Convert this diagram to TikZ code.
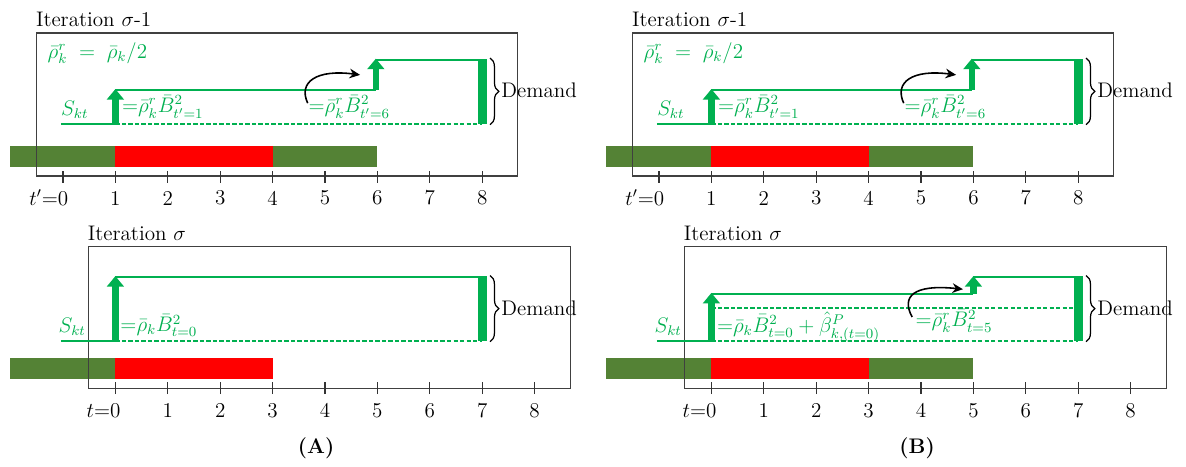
\documentclass[tikz,border=0pt]{standalone}
\usepackage{amsmath,amssymb}
\usepackage{xcolor}
\usepackage{tikz}
\usetikzlibrary{arrows.meta,decorations.pathreplacing}

\definecolor{skgreen}{HTML}{00B050}
\definecolor{barolive}{HTML}{548235}
\definecolor{barred}{HTML}{FF0000}

\begin{document}
\begin{tikzpicture}[x=1.048cm,y=1.048cm,
    frame/.style={draw=black!75,line width=0.7pt},
    tick/.style={draw=black!80,line width=0.6pt},
    ticklab/.style={font=\large,inner sep=0pt},
    title/.style={font=\large,anchor=west,inner sep=0pt},
    skline/.style={draw=skgreen,line width=1.1pt},
    skdash/.style={draw=skgreen,line width=0.9pt,dash pattern=on 2.4pt off 1.3pt},
    jump/.style={skgreen,line width=3.6pt,-{Triangle[width=9.5pt,length=6pt]}},
    lbl/.style={skgreen,font=\large,inner sep=0pt,anchor=base west},
    movearr/.style={-{Stealth[length=6pt,width=5.5pt]},line width=0.9pt},
    brc/.style={decorate,decoration={brace,amplitude=5pt},line width=0.7pt},
    dem/.style={font=\large,anchor=west,inner sep=0pt},
  ]
  \useasboundingbox (-1.202,-5.534) rectangle (21.431,3.359);

  % ---------------- iteration sigma-1 (same in A and B) ----------------
  \foreach \dx/\pn in {0/A,11.374/B}{
  \begin{scope}[shift={(\dx,0)}]
    \node[title] (\pn-ttl) at (-0.52,2.98) {Iteration $\sigma$-1};
    % olive / red / olive bar
    \fill[barolive] (-1.01,0.17) rectangle (1,0.57);
    \fill[barred] (1,0.17) rectangle (4,0.57);
    \fill[barolive] (4,0.17) rectangle (6,0.57);
    \draw[frame] (-0.50,0) rectangle (8.68,2.73);
    \foreach \i in {0,...,8} \draw[tick] (\i,-0.13) -- (\i,0.10);
    \node[ticklab] (\pn-t0) at (0,-0.42) {\llap{$t'$=}0};
    \foreach \i in {1,...,8} \node[ticklab] (\pn-t\i) at (\i,-0.42) {\i};
    % stock S_kt
    \draw[skline] (-0.04,0.99) -- (1,0.99);
    \draw[skdash] (1,0.99) -- (8,0.99);
    \draw[skline] (1,1.64) -- (5.97,1.64);
    \draw[skline] (5.97,2.22) -- (8,2.22);
    \draw[jump] (1,0.99) -- (1,1.66);
    \draw[jump] (5.97,1.64) -- (5.97,2.24);
    \fill[skgreen] (7.92,0.99) rectangle (8.09,2.24);
    \node[lbl,anchor=west] (\pn-rho) at (-0.30,2.35) {$\bar\rho^r_k\;=\;\bar\rho_k/2$};
    \node[lbl] (\pn-s) at (-0.04,1.16) {$S_{kt}$};
    \node[lbl] (\pn-q1) at (1.12,1.21) {${=}\bar\rho^r_k\bar B^2_{t'=1}$};
    \node[lbl] (\pn-q6) at (4.68,1.21) {${=}\bar\rho^r_k\bar B^2_{t'=6}$};
    \coordinate (\pn-c0) at (4.67,1.39);
    \coordinate (\pn-c1) at (5.67,1.93);
    \draw[movearr] (\pn-c0) .. controls (4.48,1.80) and (4.85,2.04) .. (\pn-c1);
    \draw[brc] (8.15,2.25) -- (8.15,0.98);
    \node[dem] (\pn-dem) at (8.36,1.64) {Demand};
  \end{scope}}

  % ---------------- (A) iteration sigma ----------------
  \node[title] (Ab-ttl) at (0.47,-1.09) {Iteration $\sigma$};
  \fill[barolive] (-1.01,-3.87) rectangle (1,-3.47);
  \fill[barred] (1,-3.87) rectangle (4,-3.47);
  \draw[frame] (0.48,-4.05) rectangle (9.69,-1.34);
  \foreach \i in {1,...,9} \draw[tick] (\i,-4.16) -- (\i,-3.93);
  \node[ticklab] (Ab-t0) at (1,-4.48) {\llap{$t$=}0};
  \foreach \i [evaluate=\i as \u using int(\i+1)] in {1,...,8}
    \node[ticklab] (Ab-t\i) at (\u,-4.48) {\i};
  \draw[skline] (-0.04,-3.15) -- (1,-3.15);
  \draw[skdash] (1,-3.15) -- (8,-3.15);
  \draw[skline] (1,-1.93) -- (8,-1.93);
  \draw[jump] (1,-3.15) -- (1,-1.91);
  \fill[skgreen] (7.92,-3.15) rectangle (8.09,-1.91);
  \node[lbl] (Ab-s) at (-0.09,-2.99) {$S_{kt}$};
  \node[lbl] (Ab-q0) at (1.09,-2.97) {${=}\bar\rho_k\bar B^2_{t=0}$};
  \draw[brc] (8.15,-1.90) -- (8.15,-3.16);
  \node[dem] (Ab-dem) at (8.36,-2.52) {Demand};

  % ---------------- (B) iteration sigma ----------------
  \begin{scope}[shift={(11.374,0)}]
    \node[title] (Bb-ttl) at (0.47,-1.09) {Iteration $\sigma$};
    \fill[barolive] (-1.01,-3.87) rectangle (1,-3.47);
    \fill[barred] (1,-3.87) rectangle (4,-3.47);
    \fill[barolive] (4,-3.87) rectangle (6,-3.47);
    \draw[frame] (0.48,-4.05) rectangle (9.69,-1.34);
    \foreach \i in {1,...,9} \draw[tick] (\i,-4.16) -- (\i,-3.93);
    \node[ticklab] (Bb-t0) at (1,-4.48) {\llap{$t$=}0};
    \foreach \i [evaluate=\i as \u using int(\i+1)] in {1,...,8}
      \node[ticklab] (Bb-t\i) at (\u,-4.48) {\i};
    \draw[skline] (-0.04,-3.15) -- (1,-3.15);
    \draw[skdash] (1,-3.15) -- (8,-3.15);
    \draw[skdash] (1,-2.52) -- (8,-2.52);
    \draw[skline] (1,-2.25) -- (6,-2.25);
    \draw[skline] (6,-1.93) -- (8,-1.93);
    \draw[jump] (1,-3.15) -- (1,-2.23);
    \draw[jump] (6,-2.25) -- (6,-1.91);
    \fill[skgreen] (7.92,-3.15) rectangle (8.09,-1.91);
    \node[lbl] (Bb-s) at (-0.09,-2.99) {$S_{kt}$};
    \node[lbl] (Bb-q0) at (1.10,-2.98) {${=}\bar\rho_k\bar B^2_{t=0}+\hat\beta^P_{k,(t=0)}$};
    \node[lbl] (Bb-q5) at (4.89,-2.88) {${=}\bar\rho^r_k\bar B^2_{t=5}$};
    \coordinate (Bb-c0) at (4.83,-2.69);
    \coordinate (Bb-c1) at (5.80,-2.16);
    \draw[movearr] (Bb-c0) .. controls (4.62,-2.30) and (4.85,-2.06) .. (Bb-c1);
    \draw[brc] (8.15,-1.90) -- (8.15,-3.16);
    \node[dem] (Bb-dem) at (8.36,-2.52) {Demand};
  \end{scope}

  % ---------------- panel labels ----------------
  \node[font=\large\bfseries] (labA) at (4.83,-5.19) {(A)};
  \node[font=\large\bfseries] (labB) at (16.30,-5.19) {(B)};
\end{tikzpicture}
\end{document}
